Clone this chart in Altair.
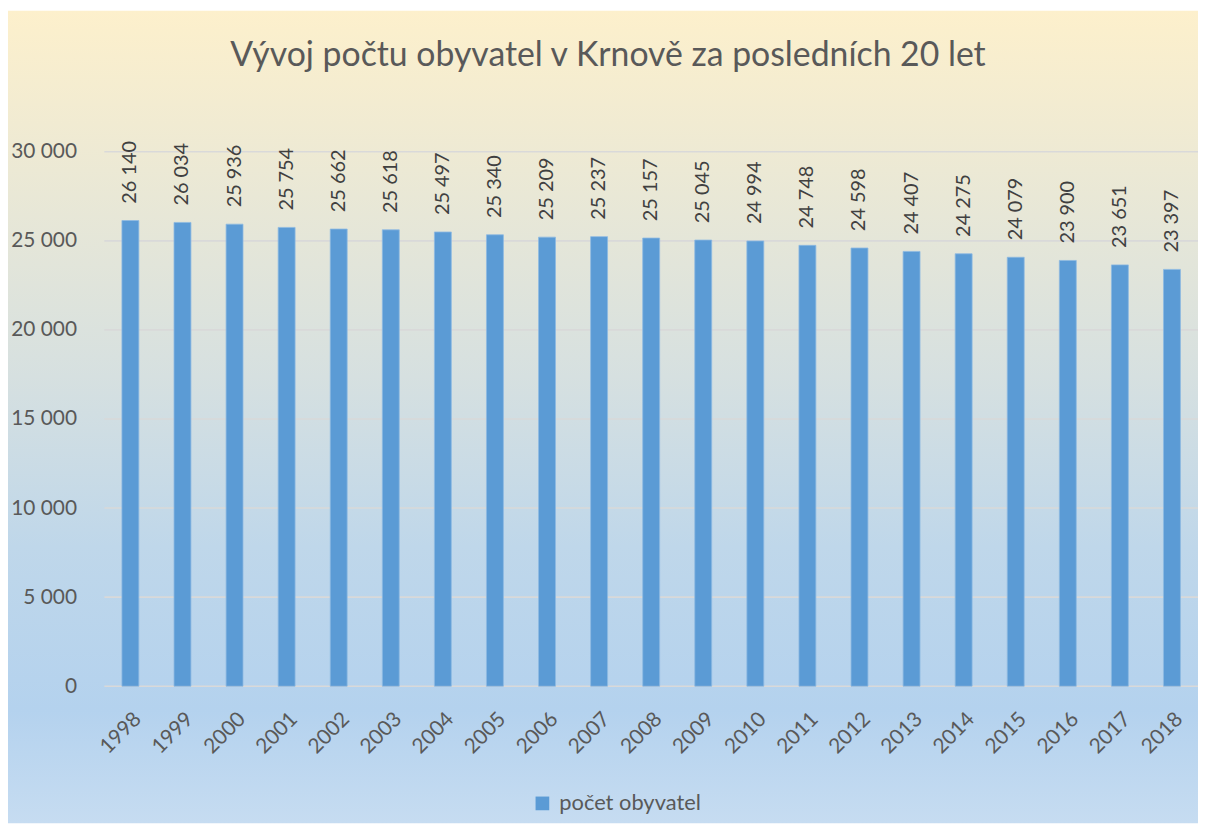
import altair as alt
import pandas as pd

years = [str(y) for y in range(1998, 2019)]
population = [26140, 26034, 25936, 25754, 25662, 25618, 25497, 25340, 25209, 25237,
              25157, 25045, 24994, 24748, 24598, 24407, 24275, 24079, 23900, 23651, 23397]
grid_values = [0, 5000, 10000, 15000, 20000, 25000, 30000]
series_name = "počet obyvatel"
title_text = "Vývoj počtu obyvatel v Krnově za posledních 20 let"

W = 1101
H = 538
PAD_L = 97
PAD_T = 142
TOTAL_H = 818

df = pd.DataFrame({"year": years, "v": population, "s": [series_name] * len(years)})
grid_df = pd.DataFrame({"g": grid_values})

FONT = "Lato"
TXT = "#595959"

yscale = alt.Scale(domain=[0, 30000])
xscale = alt.Scale(paddingInner=0.675, paddingOuter=0.3375)

bg = alt.Chart(alt.Data(values=[{"a": 1}])).mark_rect(
    color=alt.LinearGradient(
        gradient="linear", x1=0, x2=0, y1=0, y2=1,
        stops=[
            alt.GradientStop(offset=0, color="#FDF0CC"),
            alt.GradientStop(offset=0.45, color="#D6E0E0"),
            alt.GradientStop(offset=0.66, color="#BFD7EA"),
            alt.GradientStop(offset=0.86, color="#B4D2EE"),
            alt.GradientStop(offset=1, color="#C6DCF1"),
        ],
    )
).encode(
    x=alt.value(-PAD_L), x2=alt.value(W),
    y=alt.value(-PAD_T), y2=alt.value(TOTAL_H - PAD_T),
)

title = alt.Chart(alt.Data(values=[{"t": title_text}])).mark_text(
    fontSize=34, font=FONT, color=TXT, align="center", baseline="middle"
).encode(text="t:N", x=alt.value(507), y=alt.value(-96))

grid = alt.Chart(grid_df).mark_rule(color="#D9D9D9", strokeWidth=1.6).encode(
    y=alt.Y("g:Q", scale=yscale),
    x=alt.value(0), x2=alt.value(W),
)

bars = alt.Chart(df).mark_bar(stroke="#8DB9E2", strokeWidth=0.8).encode(
    x=alt.X("year:N", scale=xscale, sort=None,
            axis=alt.Axis(title="", labelAngle=-45, labelFontSize=21, labelColor=TXT,
                          labelFont=FONT, domain=False, ticks=False, labelPadding=22,
                          grid=False, zindex=2)),
    y=alt.Y("v:Q", scale=yscale,
            axis=alt.Axis(title="", values=grid_values,
                          labelExpr="replace(format(datum.value, ','), ',', ' ')",
                          labelFontSize=21, labelColor=TXT, labelFont=FONT,
                          domain=False, ticks=False, grid=False, labelPadding=28,
                          zindex=2)),
    color=alt.Color("s:N", scale=alt.Scale(domain=[series_name], range=["#5B9BD5"]),
                    legend=alt.Legend(title="", orient="none", legendX=430, legendY=645,
                                      symbolType="square", symbolSize=190,
                                      labelFontSize=22, labelColor=TXT, labelFont=FONT,
                                      labelOffset=6,
                                      symbolStrokeWidth=0, padding=0, zindex=2)),
)

labels = alt.Chart(df).transform_calculate(
    lab="replace(format(datum.v, ','), ',', ' ')"
).mark_text(angle=270, align="left", baseline="middle", dx=17, fontSize=20,
            color="#404040", font=FONT).encode(
    x=alt.X("year:N", scale=xscale, sort=None),
    y=alt.Y("v:Q", scale=yscale),
    text="lab:N",
)

chart = alt.layer(bg, title, grid, bars, labels).properties(
    width=W, height=H,
    autosize=alt.AutoSizeParams(type="none"),
    padding={"left": PAD_L, "top": PAD_T, "right": 0, "bottom": TOTAL_H - PAD_T - H},
).configure_view(stroke=None).configure(background="white")

chart.save("out.html", embed_options={"renderer": "svg", "actions": False})
